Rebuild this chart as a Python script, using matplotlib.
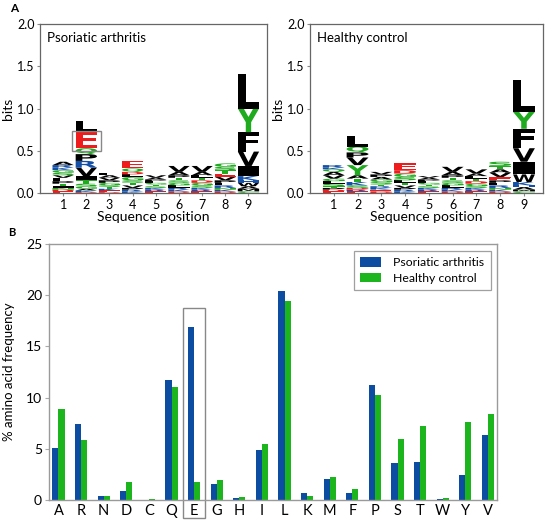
import matplotlib
matplotlib.use("Agg")
import matplotlib.pyplot as plt
import numpy as np
from matplotlib.textpath import TextPath
from matplotlib.patches import PathPatch, Rectangle
from matplotlib.font_manager import FontProperties
from matplotlib.transforms import Affine2D

plt.rcParams['font.family'] = ['Lato', 'DejaVu Sans']

# ---- logo data: per position, (letter, bits) from bottom to top
pa_logo = [
    [('E', 0.02), ('D', 0.02), ('N', 0.02), ('I', 0.02), ('T', 0.03), ('P', 0.03), ('L', 0.04),
     ('V', 0.03), ('S', 0.03), ('G', 0.03), ('K', 0.03), ('R', 0.03), ('A', 0.04)],
    [('D', 0.01), ('K', 0.02), ('A', 0.02), ('G', 0.03), ('S', 0.03), ('T', 0.04), ('I', 0.05),
     ('V', 0.10), ('R', 0.08), ('P', 0.08), ('Q', 0.07), ('E', 0.20), ('L', 0.12)],
    [('D', 0.01), ('E', 0.02), ('K', 0.02), ('T', 0.02), ('S', 0.02), ('G', 0.03), ('P', 0.03),
     ('V', 0.03), ('A', 0.03), ('L', 0.03)],
    [('K', 0.02), ('R', 0.02), ('P', 0.02), ('V', 0.03), ('T', 0.03), ('S', 0.03), ('G', 0.04),
     ('L', 0.03), ('D', 0.03), ('Q', 0.04), ('E', 0.09)],
    [('E', 0.02), ('R', 0.02), ('K', 0.02), ('S', 0.02), ('T', 0.02), ('G', 0.02), ('L', 0.02),
     ('P', 0.02), ('A', 0.02), ('V', 0.03)],
    [('D', 0.02), ('K', 0.02), ('R', 0.02), ('L', 0.03), ('G', 0.03), ('S', 0.03), ('T', 0.03),
     ('P', 0.03), ('A', 0.04), ('V', 0.07)],
    [('E', 0.02), ('R', 0.02), ('K', 0.02), ('S', 0.03), ('G', 0.03), ('D', 0.03), ('T', 0.03),
     ('L', 0.03), ('A', 0.04), ('V', 0.07)],
    [('D', 0.02), ('K', 0.02), ('N', 0.02), ('R', 0.03), ('L', 0.03), ('P', 0.03), ('V', 0.04),
     ('E', 0.04), ('T', 0.04), ('S', 0.04), ('G', 0.04)],
    [('C', 0.02), ('M', 0.03), ('A', 0.03), ('W', 0.04), ('H', 0.03), ('K', 0.05), ('I', 0.12),
     ('V', 0.17), ('F', 0.23), ('Y', 0.28), ('L', 0.41)],
]

hc_logo = [
    [('E', 0.02), ('D', 0.02), ('P', 0.02), ('T', 0.02), ('S', 0.03), ('L', 0.03), ('G', 0.03),
     ('V', 0.04), ('A', 0.04), ('Q', 0.03), ('K', 0.02), ('R', 0.03)],
    [('E', 0.02), ('R', 0.02), ('D', 0.02), ('S', 0.03), ('K', 0.04), ('T', 0.04), ('A', 0.04),
     ('Y', 0.12), ('V', 0.09), ('P', 0.06), ('Q', 0.07), ('L', 0.13)],
    [('D', 0.02), ('E', 0.02), ('K', 0.02), ('R', 0.02), ('T', 0.02), ('S', 0.03), ('G', 0.03),
     ('A', 0.03), ('P', 0.03), ('V', 0.03)],
    [('K', 0.02), ('R', 0.02), ('P', 0.02), ('V', 0.03), ('T', 0.03), ('L', 0.03), ('S', 0.04),
     ('G', 0.04), ('D', 0.04), ('E', 0.08)],
    [('E', 0.02), ('R', 0.02), ('K', 0.02), ('S', 0.02), ('T', 0.02), ('G', 0.02), ('L', 0.02),
     ('P', 0.02), ('A', 0.02), ('V', 0.02)],
    [('D', 0.02), ('K', 0.02), ('R', 0.02), ('L', 0.03), ('G', 0.03), ('S', 0.03), ('T', 0.03),
     ('P', 0.03), ('A', 0.04), ('V', 0.06)],
    [('E', 0.02), ('R', 0.02), ('K', 0.02), ('S', 0.02), ('G', 0.03), ('D', 0.03), ('T', 0.03),
     ('L', 0.03), ('A', 0.03), ('V', 0.05)],
    [('D', 0.02), ('K', 0.02), ('N', 0.02), ('R', 0.03), ('L', 0.03), ('P', 0.03), ('E', 0.04),
     ('V', 0.05), ('A', 0.04), ('T', 0.04), ('S', 0.05)],
    [('C', 0.02), ('M', 0.02), ('A', 0.03), ('H', 0.02), ('K', 0.04), ('W', 0.09), ('I', 0.15),
     ('V', 0.16), ('F', 0.23), ('Y', 0.20), ('L', 0.38)],
]

# ---- bar data (% amino acid frequency)
amino_acids = ['A', 'R', 'N', 'D', 'C', 'Q', 'E', 'G', 'H', 'I',
               'L', 'K', 'M', 'F', 'P', 'S', 'T', 'W', 'Y', 'V']
pa_freq = [5.07, 7.38, 0.36, 0.85, 0.0, 11.7, 16.94, 1.56, 0.16, 4.91,
           20.45, 0.65, 2.05, 0.72, 11.2, 3.64, 3.74, 0.13, 2.47, 6.34]
hc_freq = [8.88, 5.85, 0.42, 1.79, 0.06, 11.0, 1.76, 1.92, 0.26, 5.49,
           19.41, 0.39, 2.28, 1.07, 10.3, 5.98, 7.22, 0.2, 7.57, 8.35]

blue = '#0d4da1'
green = '#1db51d'
axis_grey = '#8a8a8a'

logo_colors = {}
for aa in 'AVLIPWFM':
    logo_colors[aa] = 'black'
for aa in 'GSTYCQN':
    logo_colors[aa] = '#1faa1f'
for aa in 'KRH':
    logo_colors[aa] = '#1450a8'
for aa in 'DE':
    logo_colors[aa] = '#ee1c1c'

letter_font = FontProperties(family='DejaVu Sans', weight='bold')


def draw_letter(ax, letter, x, y0, h, width=0.92):
    tp = TextPath((0, 0), letter, size=1, prop=letter_font)
    ext = tp.get_extents()
    sx = width / ext.width
    sy = h / ext.height
    tr = Affine2D().translate(-ext.x0, -ext.y0).scale(sx, sy).translate(x - width / 2, y0)
    path = tr.transform_path(tp)
    ax.add_patch(PathPatch(path, facecolor=logo_colors[letter], edgecolor='none', lw=0))


def draw_logo(ax, logo, title):
    for i, stack in enumerate(logo):
        pos = i + 1
        y0 = 0.0
        for letter, h in stack:
            draw_letter(ax, letter, pos, y0, h)
            y0 += h
    ax.set_xlim(0, 9.8)
    ax.set_ylim(0, 2.0)
    ax.set_xticks(range(1, 10))
    ax.set_yticks([0, 0.5, 1.0, 1.5, 2.0])
    ax.set_yticklabels(['0.0', '0.5', '1.0', '1.5', '2.0'])
    ax.set_xlabel('Sequence position', fontsize=10, labelpad=0)
    ax.set_ylabel('bits', fontsize=10, labelpad=2)
    ax.tick_params(labelsize=9, length=2.5, width=0.8, color=axis_grey, pad=1.5)
    for s in ax.spines.values():
        s.set_color('#666666')
        s.set_linewidth(0.9)
    ax.text(0.03, 0.95, title, transform=ax.transAxes, fontsize=9.5, va='top', ha='left')


fig = plt.figure(figsize=(5.5, 5.25), dpi=100)

ax1 = fig.add_axes([40 / 550, 1 - 193 / 525, 227 / 550, 169 / 525])
ax2 = fig.add_axes([310 / 550, 1 - 193 / 525, 233 / 550, 169 / 525])
draw_logo(ax1, pa_logo, 'Psoriatic arthritis')
draw_logo(ax2, hc_logo, 'Healthy control')

# grey box around the E at position 2 (psoriatic arthritis)
e_bottom = sum(h for _, h in pa_logo[1][:11])
e_top = e_bottom + pa_logo[1][11][1]
ax1.add_patch(Rectangle((1.37, e_bottom - 0.03), 1.25, e_top - e_bottom + 0.03,
                        fill=False, edgecolor='#888888', lw=1.0))

# ---- bar chart
ax3 = fig.add_axes([49 / 550, 1 - 500 / 525, 448 / 550, 256 / 525])
x = np.arange(len(amino_acids))
w = 0.27
ax3.bar(x - w / 2, pa_freq, w, color=blue, label='Psoriatic arthritis')
ax3.bar(x + w / 2, hc_freq, w, color=green, label='Healthy control')
ax3.set_xlim(-0.42, 19.4)
ax3.set_ylim(0, 25)
ax3.set_xticks(x)
ax3.set_xticklabels(amino_acids, fontsize=10.5)
ax3.set_yticks([0, 5, 10, 15, 20, 25])
ax3.tick_params(axis='x', length=0, pad=3)
ax3.tick_params(axis='y', labelsize=10, length=3, width=0.8, color='#aaaaaa', pad=2)
ax3.set_ylabel('% amino acid frequency', fontsize=9.5, labelpad=8)
for s in ax3.spines.values():
    s.set_color('#9a9a9a')
    s.set_linewidth(1.0)

e_idx = amino_acids.index('E')
ax3.add_patch(Rectangle((e_idx - 0.47, -1.75), 0.94, 20.5, fill=False,
                        edgecolor='#888888', lw=1.0, clip_on=False))

leg = ax3.legend(loc='upper right', bbox_to_anchor=(0.986, 0.972), fontsize=8.8,
                 fancybox=False, handlelength=1.7, handleheight=0.85,
                 borderpad=0.5, labelspacing=0.35, handletextpad=1.0,
                 borderaxespad=0)
leg.get_frame().set_edgecolor('#888888')
leg.get_frame().set_linewidth(0.9)

fig.text(10 / 550, 1 - 9 / 525, 'A', fontsize=8.5, fontweight='bold', va='center')
fig.text(8 / 550, 1 - 232 / 525, 'B', fontsize=8, fontweight='bold', va='center')

fig.savefig('out.png', dpi=100)
